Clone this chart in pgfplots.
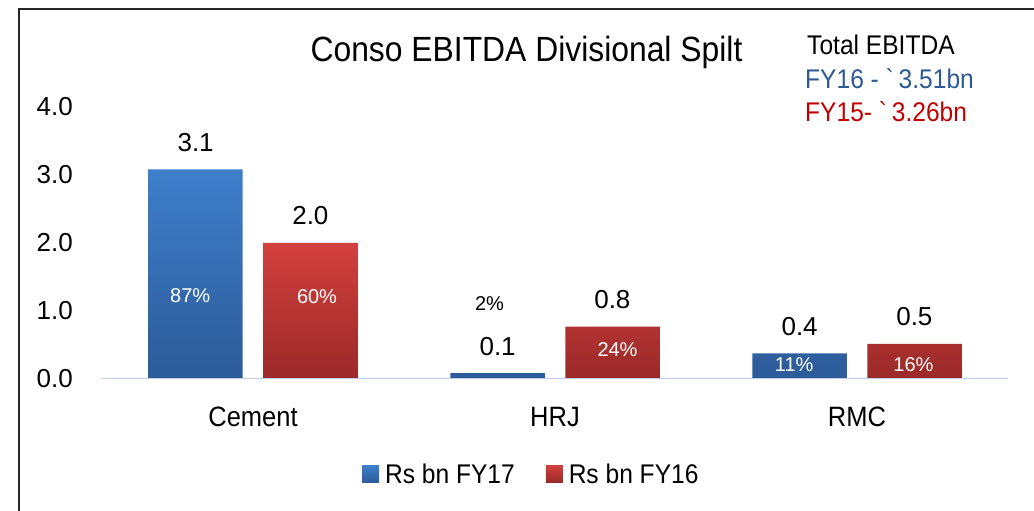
\documentclass[border=0pt]{standalone}
\usepackage{pgfplots}
\pgfplotsset{compat=1.18}
\usepackage{fontspec}
\setmainfont{Liberation Sans}
\newfontfamily\cf{Liberation Sans}[FakeStretch=0.91]
\definecolor{bluetop}{HTML}{3F7FCC}
\definecolor{bluebot}{HTML}{2C5B98}
\definecolor{redtop}{HTML}{D2403D}
\definecolor{redbot}{HTML}{9B2A29}
\definecolor{fyblue}{HTML}{2D5A94}
\definecolor{fyred}{HTML}{C00000}
\definecolor{baseln}{HTML}{BDD0E8}
\begin{document}
\begin{tikzpicture}
\begin{axis}[
  at={(0pt,0pt)}, anchor=south west,
  scale only axis, width=906pt, height=272.4pt,
  xmin=-0.5, xmax=2.5, ymin=0, ymax=4,
  axis line style={draw=none},
  tick style={draw=none},
  major tick length=0pt,
  xtick={0,1,2}, xticklabels={Cement,HRJ,RMC},
  ytick={0,1,2,3,4}, yticklabels={0.0,1.0,2.0,3.0,4.0},
  xticklabel style={font=\cf\fontsize{28}{32}\selectfont, anchor=base, inner sep=0pt, yshift=-48pt},
  yticklabel style={font=\fontsize{26}{30}\selectfont, anchor=east, inner sep=0pt, xshift=-29pt},
  clip=false,
  legend columns=2,
  legend style={draw=none, fill=none, inner sep=0pt, outer sep=0pt,
    at={(0.287,-0.3506)}, anchor=west,
    font=\cf\fontsize{27}{30}\selectfont,
    nodes={inner sep=0pt},
    /tikz/every odd column/.append style={column sep=6pt},
    /tikz/every even column/.append style={column sep=31pt}},
]
\addplot[ybar, bar width=94.5pt, bar shift=-57.5pt, draw=none, top color=bluetop, bottom color=bluebot,
  legend image code/.code={\shade[top color=bluetop,bottom color=bluebot] (0pt,-8.5pt) rectangle (17pt,8.5pt);}]
  table{
x y
0 3.07
1 0.08
2 0.37
};
\addlegendentry{Rs bn FY17}
\addplot[ybar, bar width=94.5pt, bar shift=57.5pt, draw=none, top color=redtop, bottom color=redbot,
  legend image code/.code={\shade[top color=redtop,bottom color=redbot] (0pt,-8.5pt) rectangle (17pt,8.5pt);}]
  table{
x y
0 1.99
1 0.76
2 0.51
};
\addlegendentry{Rs bn FY16}
% value labels above bars
\addplot[forget plot, draw=none, mark=none, nodes near coords, point meta=explicit symbolic,
  nodes near coords style={anchor=base, inner sep=0pt, yshift=18pt, text=black, font=\fontsize{26}{30}\selectfont}]
  table[meta=l]{
x y l
-0.19 3.07 3.1
0.81 0.08 0.1
1.81 0.37 0.4
0.19 1.99 2.0
1.19 0.76 0.8
2.19 0.51 0.5
};
% share labels
\addplot[forget plot, draw=none, mark=none, nodes near coords, point meta=explicit symbolic,
  nodes near coords style={anchor=center, inner sep=0pt, text=white, font=\fontsize{20}{24}\selectfont}]
  table[meta=l]{
x y l
-0.208 1.21 87\%
0.212 1.20 60\%
1.207 0.42 24\%
1.792 0.21 11\%
2.187 0.20 16\%
};
\addplot[forget plot, draw=none, mark=none, nodes near coords, point meta=explicit symbolic,
  nodes near coords style={anchor=center, inner sep=0pt, text=black, font=\fontsize{20}{24}\selectfont}]
  table[meta=l]{
x y l
0.783 1.094 2\%
};
\draw[baseln, line width=1.2pt] (axis cs:-0.5,0) -- (axis cs:2.5,0);
\end{axis}
\draw[line width=1.5pt, black!85] (-83pt,-140pt) -- (-83pt,369.5pt) -- (945pt,369.5pt);
\node[anchor=base, inner sep=0pt, font=\cf\fontsize{35}{40}\selectfont] at (424.5pt,316.5pt) {Conso EBITDA Divisional Spilt};
\node[anchor=base west, inner sep=0pt, font=\cf\fontsize{27}{30}\selectfont] at (705pt,323.5pt) {Total EBITDA};
\node[anchor=base west, inner sep=0pt, text=fyblue, font=\cf\fontsize{27}{30}\selectfont] at (703pt,290.2pt) {FY16 - \textasciigrave\hspace{4pt}3.51bn};
\node[anchor=base west, inner sep=0pt, text=fyred, font=\cf\fontsize{27}{30}\selectfont] at (703pt,256.8pt) {FY15- \textasciigrave\hspace{4pt}3.26bn};
\pgfresetboundingbox
\path[use as bounding box] (-102pt,-132.5pt) rectangle (932pt,378.5pt);
\end{tikzpicture}
\end{document}
